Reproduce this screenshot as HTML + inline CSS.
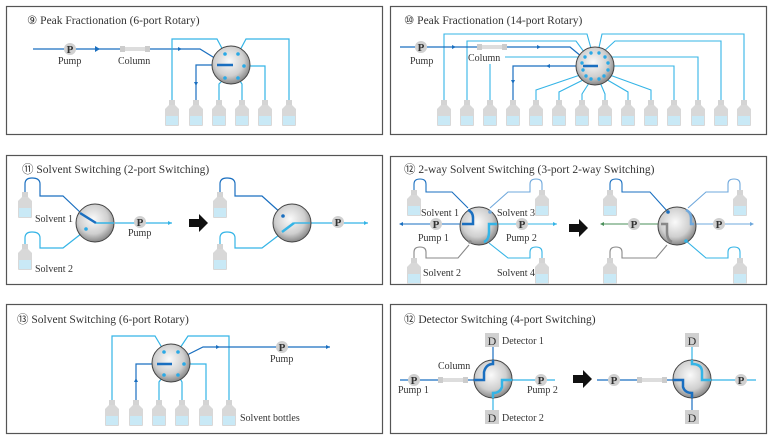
<!DOCTYPE html>
<html><head><meta charset="utf-8"><style>
html,body{margin:0;padding:0;background:#fff}
svg{display:block}
text{font-family:"Liberation Serif",serif;fill:#333}
</style></head><body>
<svg width="773" height="440" viewBox="0 0 773 440" xmlns="http://www.w3.org/2000/svg">
<defs>
<radialGradient id="vg" cx="0.45" cy="0.4" r="0.65">
<stop offset="0" stop-color="#fafafa"/><stop offset="0.6" stop-color="#cfcfcf"/><stop offset="1" stop-color="#777"/>
</radialGradient>
<symbol id="bt" overflow="visible">
<rect x="-3" y="0" width="6" height="6" fill="#d4d4d4"/>
<path d="M-3 5 L3 5 L7 9 L7 25 Q7 26 6 26 L-6 26 Q-7 26 -7 25 L-7 9 Z" fill="#d8d8d8"/>
<rect x="-6" y="16" width="12" height="9" fill="#c9e9f6"/>
</symbol>
<symbol id="pp" overflow="visible"><circle r="6" fill="#d0d0d0"/><text x="0" y="4" font-size="11" text-anchor="middle" font-weight="bold" fill="#444">P</text></symbol>
<symbol id="dd" overflow="visible"><rect x="-7" y="-7" width="14" height="14" fill="#d0d0d0"/><text x="0" y="5" font-size="12" text-anchor="middle" fill="#333">D</text></symbol>
<symbol id="col" overflow="visible"><rect x="0" y="-3" width="5" height="6" fill="#ccc"/><rect x="5" y="-2" width="20" height="4" fill="#ddd"/><rect x="25" y="-3" width="5" height="6" fill="#ccc"/></symbol>
<symbol id="bigarr" overflow="visible"><path d="M-9 -4 L1 -4 L1 -9 L10 0 L1 9 L1 4 L-9 4 Z" fill="#111"/></symbol>
</defs>

<g fill="none" stroke="#555" stroke-width="1.2">
<rect x="6.5" y="6.5" width="376" height="128"/>
<rect x="390.5" y="6.5" width="376" height="128"/>
<rect x="6.5" y="155.5" width="376" height="129"/>
<rect x="390.5" y="156.5" width="376" height="128"/>
<rect x="6.5" y="304.5" width="376" height="129"/>
<rect x="390.5" y="304.5" width="376" height="129"/>
</g>

<g font-size="11.5">
<text x="27" y="24">⑨ Peak Fractionation (6-port Rotary)</text>
<text x="404" y="24">⑩ Peak Fractionation (14-port Rotary)</text>
<text x="22" y="173">⑪ Solvent Switching (2-port Switching)</text>
<text x="404" y="173">⑫ 2-way Solvent Switching (3-port 2-way Switching)</text>
<text x="17" y="323">⑬ Solvent Switching (6-port Rotary)</text>
<text x="404" y="323">⑫ Detector Switching (4-port Switching)</text>
</g>

<!-- Panel 9 -->
<g fill="none" stroke-width="1.2">
<path d="M33 49 L200 49 L226 65" stroke="#1a6fc0"/>
<path d="M196 100 L196 65 L218 65" stroke="#1a6fc0"/>
<path d="M172 100 L172 39 L217 39 L225 54 M289 100 L289 39 L246 39 L238 54 M265 100 L265 66 L244 66 M219 100 L219 84 L225 78 M242 100 L242 84 L238 78" stroke="#34b4e6"/>
</g>
<circle cx="231" cy="65" r="19" fill="url(#vg)" stroke="#444"/>
<g fill="#2aa9e6"><circle cx="225" cy="54" r="1.8"/><circle cx="238" cy="54" r="1.8"/><circle cx="244" cy="66" r="1.8"/><circle cx="225" cy="78" r="1.8"/><circle cx="238" cy="78" r="1.8"/></g>
<line x1="217" y1="65" x2="233" y2="65" stroke="#1a6fc0" stroke-width="2.5"/>
<path d="M95 46 L100 49 L95 52Z M178 47 L182 49 L178 51Z M194 82 L196 86 L198 82Z" fill="#1a6fc0"/>
<use href="#col" x="120" y="49"/>
<use href="#pp" x="70" y="49"/>
<text x="58" y="64" font-size="10">Pump</text>
<text x="118" y="64" font-size="10">Column</text>
<use href="#bt" x="172" y="100"/><use href="#bt" x="196" y="100"/><use href="#bt" x="219" y="100"/><use href="#bt" x="242" y="100"/><use href="#bt" x="265" y="100"/><use href="#bt" x="289" y="100"/>

<!-- Panel 10 -->
<g fill="none" stroke-width="1.1" stroke="#34b4e6">
<path d="M444 100 L444 34 L587 34 L592 52"/>
<path d="M467 100 L467 41 L576 41 L587 56"/>
<path d="M505 57 L580 57 L584 61"/>
<path d="M490 100 L490 64"/>
<path d="M536 100 L536 90 L583 74"/>
<path d="M559 100 L559 92 L587 78"/>
<path d="M582 100 L582 94 L591 80"/>
<path d="M605 100 L605 94 L599 80"/>
<path d="M628 100 L628 92 L604 78"/>
<path d="M651 100 L651 90 L607 74"/>
<path d="M674 100 L674 66 L608 66"/>
<path d="M698 100 L698 57 L607 57 L604 60"/>
<path d="M721 100 L721 41 L615 41 L602 53"/>
<path d="M744 100 L744 34 L602 34 L598 52"/>
</g>
<path d="M400 47 L570 47 L593 66 M513 100 L513 66 L590 66" fill="none" stroke="#1a6fc0" stroke-width="1.2"/>
<circle cx="595" cy="66" r="19" fill="url(#vg)" stroke="#444"/>
<g fill="#2aa9e6">
<circle cx="591" cy="53" r="1.7"/><circle cx="599" cy="53" r="1.7"/><circle cx="605" cy="57" r="1.7"/><circle cx="608" cy="63" r="1.7"/><circle cx="608" cy="70" r="1.7"/><circle cx="604" cy="76" r="1.7"/><circle cx="599" cy="79" r="1.7"/><circle cx="591" cy="79" r="1.7"/><circle cx="586" cy="76" r="1.7"/><circle cx="583" cy="70" r="1.7"/><circle cx="582" cy="63" r="1.7"/><circle cx="585" cy="57" r="1.7"/>
</g>
<line x1="583" y1="66" x2="598" y2="66" stroke="#1a6fc0" stroke-width="2.5"/>
<path d="M452 45 L456 47 L452 49Z M537 45 L541 47 L537 49Z M550 64 L546 66 L550 68Z M511 80 L513 84 L515 80Z" fill="#1a6fc0"/>
<use href="#col" x="477" y="47"/>
<use href="#pp" x="421" y="47"/>
<text x="410" y="64" font-size="10">Pump</text>
<text x="468" y="61" font-size="10">Column</text>
<use href="#bt" x="444" y="100"/><use href="#bt" x="467" y="100"/><use href="#bt" x="490" y="100"/><use href="#bt" x="513" y="100"/><use href="#bt" x="536" y="100"/><use href="#bt" x="559" y="100"/><use href="#bt" x="582" y="100"/><use href="#bt" x="605" y="100"/><use href="#bt" x="628" y="100"/><use href="#bt" x="651" y="100"/><use href="#bt" x="674" y="100"/><use href="#bt" x="698" y="100"/><use href="#bt" x="721" y="100"/><use href="#bt" x="744" y="100"/>

<!-- Panel 11 -->
<g fill="none" stroke-width="1.2">
<path d="M25 192 L25 184 Q25 178 32 178 Q40 178 40 184 L40 196 L63 196 L82 214" stroke="#1a6fc0"/>
<path d="M25 244 L25 238 Q25 232 32 232 Q40 232 40 238 L40 248 L63 248 L86 230" stroke="#34b4e6"/>
<path d="M115 223 L172 223" stroke="#34b4e6"/>
<path d="M220 192 L220 184 Q220 178 227 178 Q235 178 235 184 L235 196 L262 196 L282 214" stroke="#1a6fc0"/>
<path d="M220 244 L220 238 Q220 232 227 232 Q235 232 235 238 L235 248 L262 248 L283 232" stroke="#34b4e6"/>
<path d="M305 223 L368 223" stroke="#34b4e6"/>
</g>
<circle cx="95" cy="223" r="19" fill="url(#vg)" stroke="#444"/>
<line x1="80" y1="213" x2="96" y2="223" stroke="#1a6fc0" stroke-width="2.5"/>
<line x1="96" y1="223" x2="114" y2="223" stroke="#34b4e6" stroke-width="1.4"/>
<circle cx="86" cy="229" r="1.8" fill="#2aa9e6"/>
<path d="M168 221 L172 223 L168 225Z M364 221 L368 223 L364 225Z" fill="#34b4e6"/>
<use href="#pp" x="140" y="222"/>
<text x="128" y="236" font-size="10">Pump</text>
<use href="#bt" x="25" y="192"/><use href="#bt" x="25" y="244"/>
<text x="35" y="222" font-size="10">Solvent 1</text>
<text x="35" y="272" font-size="10">Solvent 2</text>
<use href="#bigarr" x="198" y="223"/>
<circle cx="292" cy="223" r="19" fill="url(#vg)" stroke="#444"/>
<circle cx="283" cy="216" r="1.8" fill="#1a6fc0"/>
<line x1="282" y1="232" x2="294" y2="223" stroke="#34b4e6" stroke-width="2.5"/>
<line x1="294" y1="223" x2="310" y2="223" stroke="#34b4e6" stroke-width="1.4"/>
<use href="#pp" x="338" y="222"/>
<use href="#bt" x="220" y="192"/><use href="#bt" x="220" y="244"/>

<!-- Panel 12 (2-way) -->
<g fill="none" stroke-width="1.1">
<path d="M414 190 L414 184 Q414 179 420 179 Q426 179 426 184 L426 192 L452 192 L468 208" stroke="#1a6fc0"/>
<path d="M542 190 L542 184 Q542 179 536 179 Q530 179 530 184 L530 192 L508 192 L490 208" stroke="#6fa8dc"/>
<path d="M414 258 L414 252 Q414 247 420 247 Q426 247 426 252 L426 258 L458 258 L469 245" stroke="#888"/>
<path d="M542 258 L542 252 Q542 247 536 247 Q530 247 530 252 L530 258 L508 258 L489 243" stroke="#34b4e6"/>
<path d="M400 224 L462 224" stroke="#1a6fc0"/>
<path d="M496 224 L557 224" stroke="#34b4e6"/>
<path d="M610 190 L610 184 Q610 179 616 179 Q622 179 622 184 L622 192 L650 192 L668 212" stroke="#1a6fc0"/>
<path d="M740 190 L740 184 Q740 179 734 179 Q728 179 728 184 L728 192 L706 192 L688 208" stroke="#6fa8dc"/>
<path d="M610 258 L610 252 Q610 247 616 247 Q622 247 622 252 L622 258 L656 258 L667 245" stroke="#888"/>
<path d="M740 258 L740 252 Q740 247 734 247 Q728 247 728 252 L728 258 L706 258 L685 240" stroke="#34b4e6"/>
<path d="M601 224 L661 224" stroke="#4a8f5a"/>
<path d="M694 224 L753 224" stroke="#6fa8dc"/>
</g>
<circle cx="479" cy="226" r="19" fill="url(#vg)" stroke="#444"/>
<path d="M468 210 Q473 212 473 218 L473 224 L462 224" fill="none" stroke="#1a6fc0" stroke-width="2.5"/>
<path d="M497 224 L489 224 L489 232 Q489 240 484 242" fill="none" stroke="#34b4e6" stroke-width="2.5"/>
<circle cx="490" cy="212" r="1.8" fill="#6fa8dc"/><circle cx="470" cy="242" r="1.8" fill="#888"/>
<path d="M403 222 L399 224 L403 226Z" fill="#1a6fc0"/><path d="M553 222 L557 224 L553 226Z" fill="#34b4e6"/>
<use href="#pp" x="436" y="224"/><use href="#pp" x="522" y="224"/>
<text x="421" y="216" font-size="10">Solvent 1</text>
<text x="497" y="216" font-size="10">Solvent 3</text>
<text x="418" y="241" font-size="10">Pump 1</text>
<text x="506" y="241" font-size="10">Pump 2</text>
<text x="423" y="276" font-size="10">Solvent 2</text>
<text x="497" y="276" font-size="10">Solvent 4</text>
<use href="#bt" x="414" y="190"/><use href="#bt" x="542" y="190"/><use href="#bt" x="414" y="258"/><use href="#bt" x="542" y="258"/>
<use href="#bigarr" x="578" y="228"/>
<circle cx="677" cy="226" r="19" fill="url(#vg)" stroke="#444"/>
<path d="M686 210 Q691 212 691 218 L691 224 L694 224" fill="none" stroke="#6fa8dc" stroke-width="2.5"/>
<path d="M661 224 L667 224 L667 232 Q667 240 672 242" fill="none" stroke="#888" stroke-width="2.5"/>
<circle cx="668" cy="212" r="1.8" fill="#1a6fc0"/><circle cx="686" cy="241" r="1.8" fill="#34b4e6"/>
<path d="M604 222 L600 224 L604 226Z" fill="#4a8f5a"/><path d="M750 222 L754 224 L750 226Z" fill="#6fa8dc"/>
<use href="#pp" x="634" y="224"/><use href="#pp" x="719" y="224"/>
<use href="#bt" x="610" y="190"/><use href="#bt" x="740" y="190"/><use href="#bt" x="610" y="258"/><use href="#bt" x="740" y="258"/>

<!-- Panel 13 -->
<g fill="none" stroke-width="1.2">
<path d="M112 400 L112 336 L155 336 L164 351 M229 400 L229 336 L188 336 L178 351 M206 400 L206 364 L184 364 M159 400 L159 382 L164 375 M182 400 L182 382 L178 375" stroke="#34b4e6"/>
<path d="M136 400 L136 364 L160 364 M171 363 L203 347 L330 347" stroke="#1a6fc0"/>
</g>
<circle cx="171" cy="363" r="19" fill="url(#vg)" stroke="#444"/>
<g fill="#2aa9e6"><circle cx="164" cy="352" r="1.8"/><circle cx="178" cy="352" r="1.8"/><circle cx="184" cy="364" r="1.8"/><circle cx="164" cy="375" r="1.8"/><circle cx="178" cy="375" r="1.8"/></g>
<line x1="157" y1="364" x2="172" y2="364" stroke="#1a6fc0" stroke-width="2.5"/>
<path d="M216 345 L220 347 L216 349Z M326 345 L330 347 L326 349Z M134 382 L136 378 L138 382Z" fill="#1a6fc0"/>
<use href="#pp" x="282" y="347"/>
<text x="270" y="362" font-size="10">Pump</text>
<use href="#bt" x="112" y="400"/><use href="#bt" x="136" y="400"/><use href="#bt" x="159" y="400"/><use href="#bt" x="182" y="400"/><use href="#bt" x="206" y="400"/><use href="#bt" x="229" y="400"/>
<text x="240" y="421" font-size="10">Solvent bottles</text>

<!-- Panel 12 detector -->
<g fill="none" stroke-width="1.2">
<path d="M400 380 L474 380 M493 360 L493 347" stroke="#1a6fc0"/>
<path d="M512 380 L555 380 M493 398 L493 410" stroke="#34b4e6"/>
<path d="M597 380 L673 380 M692 398 L692 410" stroke="#1a6fc0"/>
<path d="M711 380 L756 380 M692 360 L692 347" stroke="#34b4e6"/>
</g>
<circle cx="493" cy="379" r="19" fill="url(#vg)" stroke="#444"/>
<path d="M474 380 L484 380 L484 372 Q486 364 493 364 L493 360" fill="none" stroke="#1a6fc0" stroke-width="2.5"/>
<path d="M512 380 L502 380 L502 387 Q500 393 493 393 L493 398" fill="none" stroke="#34b4e6" stroke-width="2.5"/>
<use href="#col" x="438" y="380"/>
<use href="#pp" x="414" y="380"/><use href="#pp" x="541" y="380"/>
<use href="#dd" x="492" y="340"/><use href="#dd" x="492" y="417"/>
<text x="502" y="344" font-size="10">Detector 1</text>
<text x="502" y="421" font-size="10">Detector 2</text>
<text x="438" y="369" font-size="10">Column</text>
<text x="398" y="393" font-size="10">Pump 1</text>
<text x="527" y="393" font-size="10">Pump 2</text>
<use href="#bigarr" x="582" y="379"/>
<circle cx="692" cy="379" r="19" fill="url(#vg)" stroke="#444"/>
<path d="M692 360 L692 364 Q702 364 702 372 L702 380 L711 380" fill="none" stroke="#34b4e6" stroke-width="2.5"/>
<path d="M673 380 L683 380 L683 387 Q685 393 692 393 L692 398" fill="none" stroke="#1a6fc0" stroke-width="2.5"/>
<use href="#col" x="637" y="380"/>
<use href="#pp" x="614" y="380"/><use href="#pp" x="741" y="380"/>
<use href="#dd" x="692" y="340"/><use href="#dd" x="692" y="417"/>
</svg>
</body></html>
